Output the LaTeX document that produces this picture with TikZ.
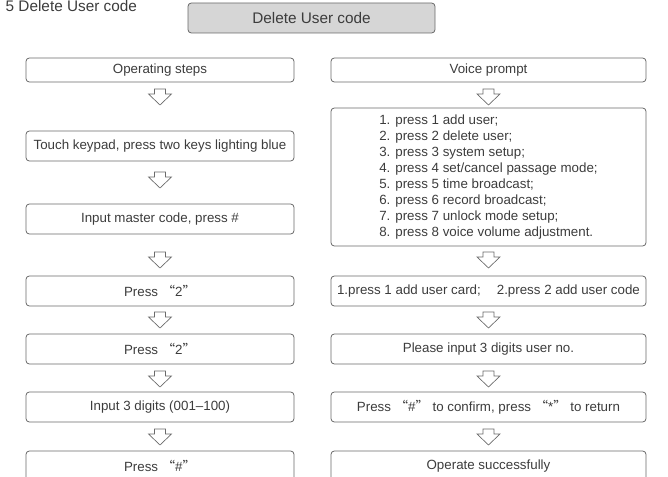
\documentclass[tikz,border=0pt]{standalone}
\usepackage{fontspec}
\setmainfont{Liberation Sans}
\newfontfamily\cjk{Noto Sans CJK SC}
\usepackage{tikz}

\definecolor{txtgray}{HTML}{3C3C3C}
\definecolor{linegray}{HTML}{6A6A6A}
\definecolor{headfill}{HTML}{D6D6D6}
\newcommand{\qt}[1]{{\cjk “}#1{\cjk ”}}

\tikzset{
  stepbox/.style={draw=linegray, line width=0.6pt, rounded corners=2.5pt, inner sep=0pt,
    text=txtgray, font=\fontsize{10}{12}\selectfont, minimum height=22.5pt},
  leftbox/.style={stepbox, minimum width=201pt},
  rightbox/.style={stepbox, minimum width=236.25pt},
  darr/.pic={
    \draw[linegray, fill=white, line width=0.5pt, line join=miter]
      (-5.5,-8) -- (5.5,-8) -- (5.5,-3) -- (11.5,-3) -- (0,8) -- (-11.5,-3) -- (-5.5,-3) -- cycle;
  }
}

\begin{document}
\begin{tikzpicture}[x=0.75pt, y=-0.75pt]
  \useasboundingbox (0,0) rectangle (668,477);

  \node[anchor=base west, text=txtgray, font=\fontsize{11.5}{13}\selectfont] (title) at (1,12) {5 Delete User code};
  \node[stepbox, fill=headfill, minimum width=185.25pt, font=\fontsize{11.5}{13}\selectfont] (head) at (311.5,18) {Delete User code};

  % left column
  \node[leftbox, minimum height=18pt] (ops) at (160,70) {Operating steps};
  \node[leftbox] (touch) at (160,146) {Touch keypad, press two keys lighting blue};
  \node[leftbox] (master) at (160,219) {Input master code, press \#};
  \node[leftbox] (pressa) at (160,291) {Press \qt{2}};
  \node[leftbox] (pressb) at (160,349) {Press \qt{2}};
  \node[leftbox] (digits) at (160,407) {Input 3 digits (001--100)};
  \node[leftbox] (hash) at (160,466) {Press \qt{\#}};

  % right column
  \node[rightbox, minimum height=18pt] (voice) at (488.5,70) {Voice prompt};
  \node[rightbox, minimum height=103.5pt, align=left] (menu) at (488.5,177) {%
    1. press 1 add user;\\
    2. press 2 delete user;\\
    3. press 3 system setup;\\
    4. press 4 set/cancel passage mode;\\
    5. press 5 time broadcast;\\
    6. press 6 record broadcast;\\
    7. press 7 unlock mode setup;\\
    8. press 8 voice volume adjustment.};
  \node[rightbox] (card) at (488.5,291) {1.press 1 add user card;\hspace{12pt}2.press 2 add user code};
  \node[rightbox] (userno) at (488.5,349) {Please input 3 digits user no.};
  \node[rightbox] (confirm) at (488.5,407) {Press \qt{\#} to confirm, press \qt{*} to return};
  \node[rightbox] (done) at (488.5,466) {Operate successfully};

  % block arrows
  \pic (la) at (160,97) {darr};
  \pic (lb) at (160,180) {darr};
  \pic (lc) at (160,260) {darr};
  \pic (ld) at (160,320) {darr};
  \pic (le) at (160,379) {darr};
  \pic (lf) at (160,437) {darr};
  \pic (ra) at (488.5,97) {darr};
  \pic (rc) at (488.5,260) {darr};
  \pic (rd) at (488.5,320) {darr};
  \pic (re) at (488.5,379) {darr};
  \pic (rf) at (488.5,437) {darr};
\end{tikzpicture}
\end{document}
